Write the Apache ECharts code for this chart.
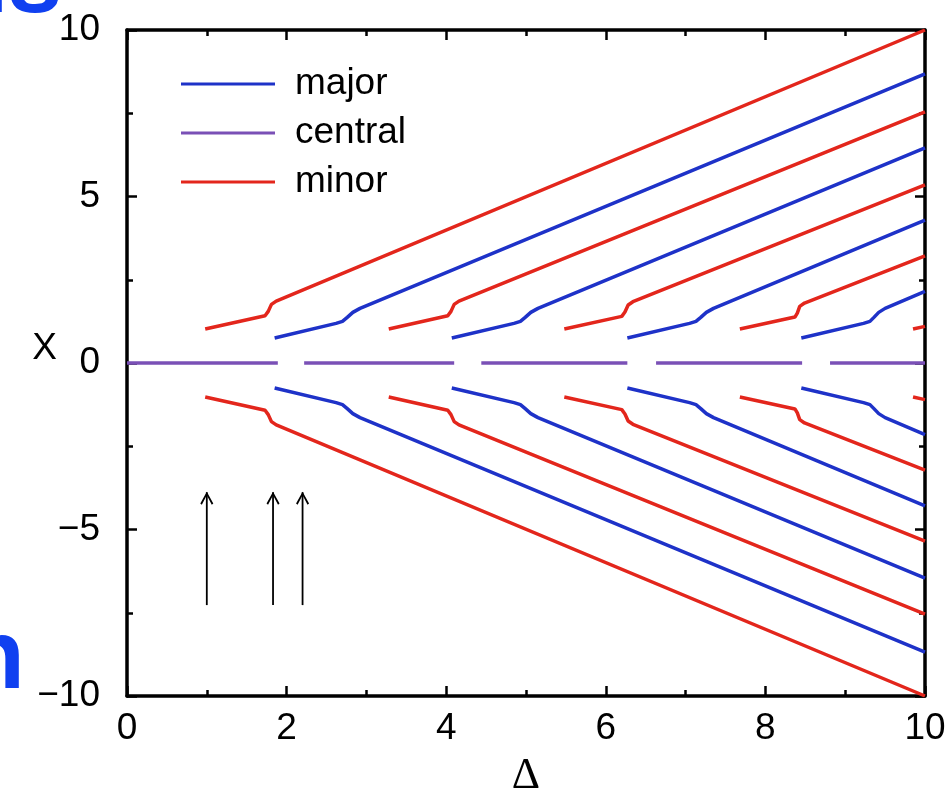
<!DOCTYPE html>
<html>
<head>
<meta charset="utf-8">
<script src="https://cdn.jsdelivr.net/npm/echarts@6/dist/echarts.min.js"></script>
<style>
  html, body { margin: 0; padding: 0; background: #fff; }
  #chart { width: 946px; height: 796px; }
</style>
</head>
<body>
<div id="chart"></div>
<script>
// axis ticks
const xTicks = [0, 2, 4, 6, 8, 10];
const yTicks = [-10, -5, 0, 5, 10];

// minor branches (red), upper and lower halves
const red1D = [0.98, 1.73, 1.77, 1.81, 1.87, 10];
const red1Up = [1.02, 1.42, 1.55, 1.76, 1.86, 10];
const red1Dn = [-1.02, -1.42, -1.55, -1.76, -1.86, -10];
const red2D = [3.28, 4.02, 4.06, 4.1, 4.16, 10];
const red2Up = [1.02, 1.42, 1.55, 1.76, 1.86, 7.54];
const red2Dn = [-1.02, -1.42, -1.55, -1.76, -1.86, -7.54];
const red3D = [5.48, 6.2, 6.24, 6.28, 6.34, 10];
const red3Up = [1.02, 1.4, 1.53, 1.74, 1.84, 5.35];
const red3Dn = [-1.02, -1.4, -1.53, -1.74, -1.84, -5.35];
const red4D = [7.68, 8.37, 8.4, 8.43, 8.49, 10];
const red4Up = [1.02, 1.38, 1.5, 1.7, 1.8, 3.22];
const red4Dn = [-1.02, -1.38, -1.5, -1.7, -1.8, -3.22];
const red5D = [9.85, 10];
const red5Up = [1.02, 1.1];
const red5Dn = [-1.02, -1.1];

// major branches (blue)
const blue1D = [1.85, 2.62, 2.7, 2.76, 2.83, 2.92, 10];
const blue1Up = [0.75, 1.19, 1.25, 1.37, 1.52, 1.64, 8.68];
const blue1Dn = [-0.75, -1.19, -1.25, -1.37, -1.52, -1.64, -8.68];
const blue2D = [4.07, 4.85, 4.93, 4.99, 5.06, 5.15, 10];
const blue2Up = [0.75, 1.19, 1.25, 1.37, 1.52, 1.64, 6.46];
const blue2Dn = [-0.75, -1.19, -1.25, -1.37, -1.52, -1.64, -6.46];
const blue3D = [6.27, 7.05, 7.13, 7.19, 7.26, 7.35, 10];
const blue3Up = [0.75, 1.19, 1.25, 1.37, 1.52, 1.64, 4.29];
const blue3Dn = [-0.75, -1.19, -1.25, -1.37, -1.52, -1.64, -4.29];
const blue4D = [8.45, 9.23, 9.31, 9.36, 9.42, 9.5, 10];
const blue4Up = [0.75, 1.19, 1.25, 1.37, 1.52, 1.64, 2.15];
const blue4Dn = [-0.75, -1.19, -1.25, -1.37, -1.52, -1.64, -2.15];

// central branch (purple) segments along x = 0
const centralFrom = [0, 2.22, 4.44, 6.63, 8.81];
const centralTo = [1.89, 4.1, 6.27, 8.46, 10];

// arrows
const arrowD = [1, 1.83, 2.2];
const arrowFrom = -7.27;
const arrowTo = -3.88;

const RED = '#e3261c';
const BLUE = '#1e32c8';
const PURPLE = '#7a50b6';

const series = [];
function branch(name, color, d, x) {
  series.push({
    name: name,
    type: 'line',
    data: d.map((v, i) => [v, x[i]]),
    showSymbol: false,
    lineStyle: { color: color, width: 3.5 },
    itemStyle: { color: color },
    z: 3
  });
}

branch('major', BLUE, blue1D, blue1Up);
branch('major', BLUE, blue1D, blue1Dn);
branch('major', BLUE, blue2D, blue2Up);
branch('major', BLUE, blue2D, blue2Dn);
branch('major', BLUE, blue3D, blue3Up);
branch('major', BLUE, blue3D, blue3Dn);
branch('major', BLUE, blue4D, blue4Up);
branch('major', BLUE, blue4D, blue4Dn);

centralFrom.forEach((f, i) => {
  branch('central', PURPLE, [f, centralTo[i]], [0, 0]);
});

branch('minor', RED, red1D, red1Up);
branch('minor', RED, red1D, red1Dn);
branch('minor', RED, red2D, red2Up);
branch('minor', RED, red2D, red2Dn);
branch('minor', RED, red3D, red3Up);
branch('minor', RED, red3D, red3Dn);
branch('minor', RED, red4D, red4Up);
branch('minor', RED, red4D, red4Dn);
branch('minor', RED, red5D, red5Up);
branch('minor', RED, red5D, red5Dn);

const arrowHead = 'path://M6,0 L12,10.5 L10.6,11.6 L6,3.2 L1.4,11.6 L0,10.5 Z';
arrowD.forEach(d => {
  series.push({
    type: 'line',
    data: [
      { value: [d, arrowFrom], symbol: 'none' },
      { value: [d, arrowTo], symbol: arrowHead, symbolSize: [13, 13], symbolOffset: [0, 6] }
    ],
    showSymbol: true,
    lineStyle: { color: '#000', width: 1.8 },
    itemStyle: { color: '#000' },
    z: 2
  });
});

const axisCommon = {
  type: 'value',
  axisLine: { show: true, onZero: false, lineStyle: { color: '#000', width: 3.5 } },
  axisTick: { show: true, inside: true, length: 10, lineStyle: { color: '#000', width: 2.5 } },
  minorTick: { show: true, splitNumber: 2, length: 6, lineStyle: { color: '#000', width: 2.5 } },
  splitLine: { show: false }
};

const labelFont = { color: '#000', fontSize: 37, fontFamily: 'Liberation Sans, Arial, sans-serif' };

const option = {
  animation: false,
  backgroundColor: '#fff',
  grid: { left: 127, right: 21, top: 30, bottom: 100, outerBoundsMode: 'none' },
  legend: {
    orient: 'vertical',
    left: 181,
    top: 65,
    padding: 0,
    icon: 'rect',
    itemWidth: 94,
    itemHeight: 3,
    itemGap: 11,
    data: ['major', 'central', 'minor'],
    textStyle: Object.assign({ padding: [0, 0, 0, 15], lineHeight: 38 }, labelFont),
    selectedMode: false
  },
  xAxis: [
    Object.assign({}, axisCommon, {
      min: xTicks[0], max: xTicks[xTicks.length - 1], interval: xTicks[1] - xTicks[0],
      position: 'bottom',
      name: 'Δ',
      nameLocation: 'middle',
      nameGap: 58,
      nameMoveOverlap: false,
      nameTextStyle: { color: '#000', fontSize: 44, fontFamily: 'Liberation Serif, Times New Roman, serif' },
      axisLabel: Object.assign({ margin: 14 }, labelFont)
    }),
    Object.assign({}, axisCommon, {
      min: xTicks[0], max: xTicks[xTicks.length - 1], interval: xTicks[1] - xTicks[0],
      position: 'top',
      axisLabel: { show: false }
    })
  ],
  yAxis: [
    Object.assign({}, axisCommon, {
      min: yTicks[0], max: yTicks[yTicks.length - 1], interval: yTicks[1] - yTicks[0],
      position: 'left',
      name: 'X',
      nameLocation: 'middle',
      nameRotate: 0,
      nameGap: 70,
      nameMoveOverlap: false,
      nameTextStyle: { color: '#000', fontSize: 37, fontFamily: 'Liberation Sans, Arial, sans-serif', verticalAlign: 'bottom', padding: [0, 0, -4, 0] },
      axisLabel: Object.assign({ margin: 27, formatter: v => String(v).replace('-', '\u2212') }, labelFont)
    }),
    Object.assign({}, axisCommon, {
      min: yTicks[0], max: yTicks[yTicks.length - 1], interval: yTicks[1] - yTicks[0],
      position: 'right',
      axisLabel: { show: false }
    })
  ],
  graphic: [
    { type: 'text', left: -52, top: -64, style: { text: 'ns', fontSize: 98, fontWeight: 'bold', fill: '#1040f0', fontFamily: 'Liberation Sans, Arial, sans-serif' } },
    { type: 'text', left: -35, top: 612, style: { text: 'n', fontSize: 98, fontWeight: 'bold', fill: '#1040f0', fontFamily: 'Liberation Sans, Arial, sans-serif' } }
  ],
  series: series
};

const chart = echarts.init(document.getElementById('chart'), null, { renderer: 'canvas' });
chart.setOption(option);
</script>
</body>
</html>
